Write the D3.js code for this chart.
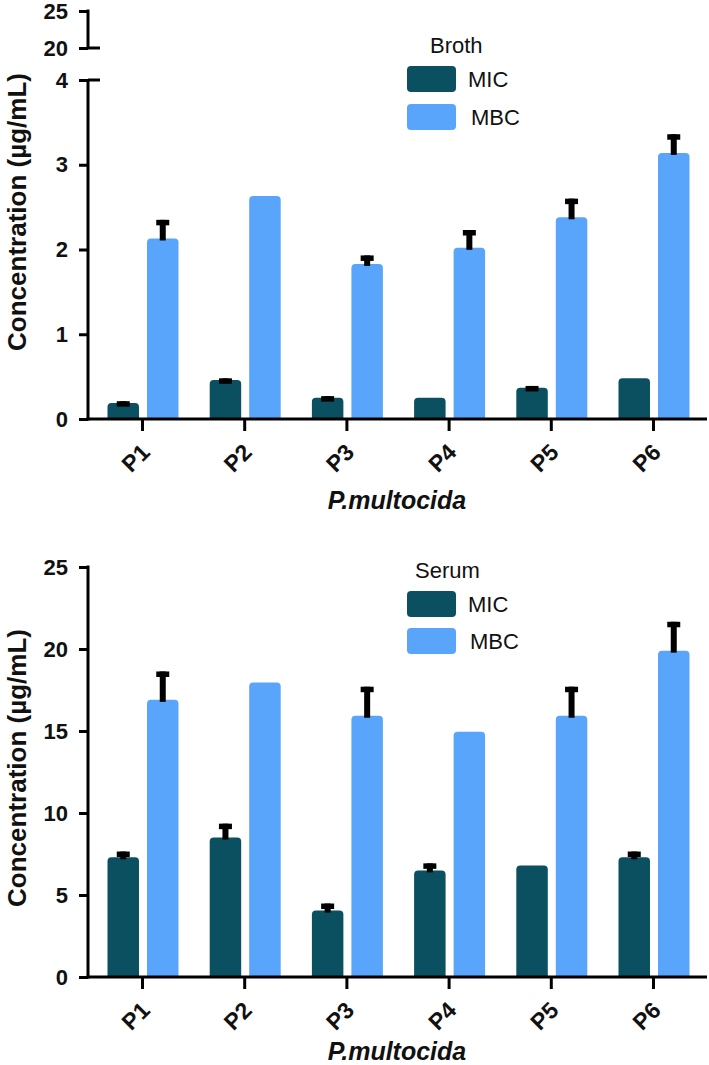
<!DOCTYPE html>
<html>
<head>
<meta charset="utf-8">
<script src="https://cdn.jsdelivr.net/npm/d3@7"></script>
<style>
  html, body { margin: 0; padding: 0; background: #fff; }
  svg { display: block; font-family: "Liberation Sans", Arial, Helvetica, sans-serif; }
</style>
</head>
<body>
<svg id="chart" width="709" height="1065"></svg>
<script>
// ---------------- DATA ----------------
const categories = ["P1", "P2", "P3", "P4", "P5", "P6"];
const seriesNames = ["MIC", "MBC"];

// Broth (µg/mL)
const brothMIC    = [0.19, 0.46, 0.25, 0.25, 0.37, 0.48];
const brothMICErr = [0.02, 0.02, 0.02, 0,    0.02, 0];
const brothMBC    = [2.13, 2.63, 1.83, 2.02, 2.38, 3.14];
const brothMBCErr = [0.22, 0,    0.10, 0.21, 0.22, 0.22];

// Serum (µg/mL)
const serumMIC    = [7.3, 8.5, 4.05, 6.5, 6.8, 7.3];
const serumMICErr = [0.35, 0.85, 0.43, 0.43, 0, 0.35];
const serumMBC    = [16.9, 17.95, 15.93, 14.96, 15.93, 19.9];
const serumMBCErr = [1.73, 0, 1.77, 0, 1.77, 1.76];

const brothTicksLower = [0, 1, 2, 3, 4];
const brothTicksUpper = [20, 25];
const serumTicks = [0, 5, 10, 15, 20, 25];

const colors = { MIC: "#0b5061", MBC: "#59a5fb" };
const yTitle = "Concentration (\u00b5g/mL)";
const xTitle = "P.multocida";

// ---------------- DRAW ----------------
const svg = d3.select("#chart");
const axisX = 88;
const xRight = 707;

const x = d3.scaleBand().domain(categories).range([91.4, 704.6]).padding(0);
const xInner = d3.scaleBand().domain(seriesNames).range([-35, 36]).paddingInner(0.203);

function roundedTop(x0, y0, w, h, r) {
  r = Math.min(r, h, w / 2);
  return `M${x0},${y0 + h}V${y0 + r}Q${x0},${y0} ${x0 + r},${y0}H${x0 + w - r}Q${x0 + w},${y0} ${x0 + w},${y0 + r}V${y0 + h}Z`;
}

function drawBars(g, y, mic, micErr, mbc, mbcErr) {
  const rows = [];
  categories.forEach((c, i) => {
    rows.push({ cat: c, s: "MIC", v: mic[i], e: micErr[i] });
    rows.push({ cat: c, s: "MBC", v: mbc[i], e: mbcErr[i] });
  });
  const bw = xInner.bandwidth();
  const cxOf = d => x(d.cat) + x.bandwidth() / 2 + xInner(d.s) + bw / 2;
  g.selectAll("path.bar").data(rows).join("path")
    .attr("class", "bar")
    .attr("fill", d => colors[d.s])
    .attr("d", d => {
      const x0 = cxOf(d) - bw / 2;
      const y0 = y(d.v);
      return roundedTop(x0, y0, bw, y(0) - y0, 4);
    });
  const errs = rows.filter(d => d.e > 0);
  g.selectAll("rect.stem").data(errs).join("rect")
    .attr("class", "stem")
    .attr("fill", "#000")
    .attr("x", d => cxOf(d) - 3)
    .attr("width", 6)
    .attr("y", d => y(d.v + d.e))
    .attr("height", d => y(d.v) - y(d.v + d.e) + 2);
  g.selectAll("rect.cap").data(errs).join("rect")
    .attr("class", "cap")
    .attr("fill", "#000")
    .attr("x", d => cxOf(d) - 6.5)
    .attr("width", 13)
    .attr("y", d => y(d.v + d.e))
    .attr("height", 5.5);
}

function drawXAxis(g, yPos, titleY) {
  const ax = g.append("g").attr("transform", `translate(0,${yPos})`)
    .call(d3.axisBottom(x).tickSize(12).tickSizeOuter(0).tickPadding(0).tickFormat(""));
  ax.select(".domain").remove();
  ax.selectAll(".tick line").attr("stroke", "#000").attr("stroke-width", 3);
  g.append("line").attr("x1", axisX - 1.5).attr("x2", xRight)
    .attr("y1", yPos).attr("y2", yPos).attr("stroke", "#000").attr("stroke-width", 3);
  g.selectAll("text.xlab").data(categories).join("text")
    .attr("class", "xlab")
    .attr("transform", d => `translate(${x(d) + x.bandwidth() / 2 + 3},${yPos + 29}) rotate(-45)`)
    .attr("text-anchor", "end")
    .attr("dy", "0.35em")
    .attr("font-size", 23)
    .attr("font-weight", "bold")
    .attr("fill", "#111")
    .text(d => d);
  g.append("text")
    .attr("x", 397).attr("y", titleY)
    .attr("text-anchor", "middle")
    .attr("font-size", 25).attr("font-weight", "bold").attr("font-style", "italic")
    .attr("fill", "#111")
    .text(xTitle);
}

function drawYTicks(g, y, ticks, breakVals) {
  const ax = g.append("g").attr("transform", `translate(${axisX},0)`)
    .call(d3.axisLeft(y).tickValues(ticks).tickSize(9).tickPadding(11).tickFormat(d3.format("d")));
  ax.select(".domain").remove();
  ax.selectAll(".tick line").attr("stroke", "#000").attr("stroke-width", 3);
  ax.selectAll(".tick text").attr("font-size", 22).attr("font-weight", "bold").attr("fill", "#111");
  g.selectAll(null).data(breakVals).join("line")
    .attr("x1", axisX).attr("x2", axisX + 12)
    .attr("y1", d => y(d)).attr("y2", d => y(d))
    .attr("stroke", "#000").attr("stroke-width", 3);
}

function drawLegend(g, title, tx, ty, sx, sy1, sy2, lx1, lx2) {
  g.append("text").attr("x", tx).attr("y", ty).attr("font-size", 22).attr("fill", "#111").text(title);
  [["MIC", sy1, lx1], ["MBC", sy2, lx2]].forEach(([s, sy, lx]) => {
    g.append("rect").attr("x", sx).attr("y", sy).attr("width", 49).attr("height", 26)
      .attr("rx", 4).attr("fill", colors[s]);
    g.append("text").attr("x", lx).attr("y", sy + 13).attr("dy", "0.36em")
      .attr("font-size", 22).attr("fill", "#111").text(s);
  });
}

function drawYTitle(g, cy) {
  g.append("text")
    .attr("transform", `translate(26,${cy}) rotate(-90)`)
    .attr("text-anchor", "middle")
    .attr("font-size", 26).attr("font-weight", "bold").attr("fill", "#111")
    .text(yTitle);
}

// ---- Top panel: Broth (broken axis) ----
{
  const g = svg.append("g");
  const yLow = d3.scaleLinear().domain([0, 4]).range([419, 80]);
  const yUp = d3.scaleLinear().domain([20, 25]).range([48, 11]);
  drawBars(g, yLow, brothMIC, brothMICErr, brothMBC, brothMBCErr);
  g.append("line").attr("x1", axisX).attr("x2", axisX).attr("y1", yUp(25) - 1.5).attr("y2", yUp(20))
    .attr("stroke", "#000").attr("stroke-width", 3);
  g.append("line").attr("x1", axisX).attr("x2", axisX).attr("y1", yLow(4)).attr("y2", yLow(0) + 1.5)
    .attr("stroke", "#000").attr("stroke-width", 3);
  drawYTicks(g, yUp, brothTicksUpper, [20]);
  drawYTicks(g, yLow, brothTicksLower, [4]);
  drawXAxis(g, 419, 509);
  drawLegend(g, "Broth", 430, 53, 407, 66, 104, 468, 471);
  drawYTitle(g, 212);
}

// ---- Bottom panel: Serum ----
{
  const g = svg.append("g");
  const y = d3.scaleLinear().domain([0, 25]).range([977, 567]);
  drawBars(g, y, serumMIC, serumMICErr, serumMBC, serumMBCErr);
  g.append("line").attr("x1", axisX).attr("x2", axisX).attr("y1", y(25) - 1.5).attr("y2", y(0) + 1.5)
    .attr("stroke", "#000").attr("stroke-width", 3);
  drawYTicks(g, y, serumTicks, []);
  drawXAxis(g, 977, 1060);
  drawLegend(g, "Serum", 415, 578, 407, 591, 628, 468, 470);
  drawYTitle(g, 768);
}
</script>
</body>
</html>
